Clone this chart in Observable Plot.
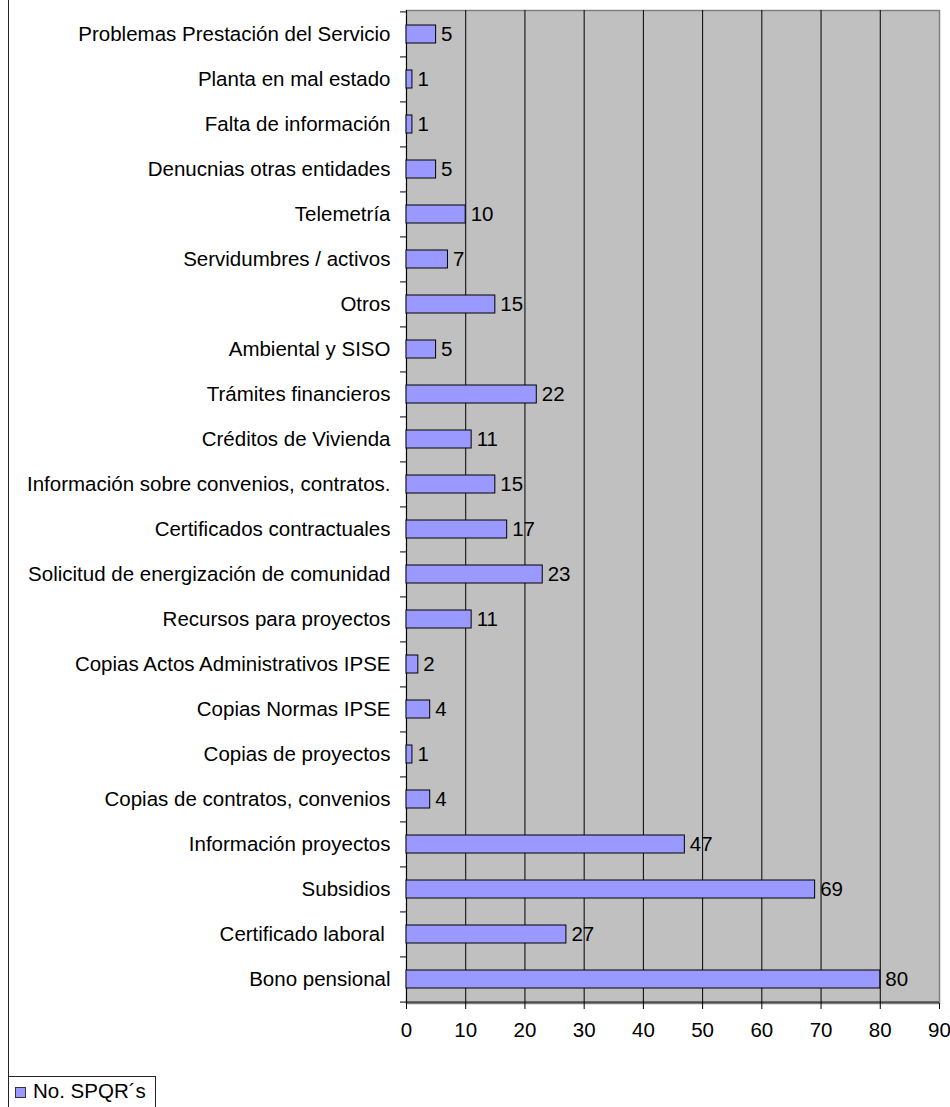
<!DOCTYPE html>
<html>
<head>
<meta charset="utf-8">
<script src="https://cdn.jsdelivr.net/npm/d3@7"></script>
<script src="https://cdn.jsdelivr.net/npm/@observablehq/plot@0.6"></script>
<style>
  body { margin: 0; background: #fff; font-family: "Liberation Sans", Arial, sans-serif; }
  #wrap { position: relative; width: 950px; height: 1107px; overflow: hidden; }
  #frame { position: absolute; left: 8px; top: 0; width: 0; height: 1077px; border-left: 1px solid #222; }
  #legend { position: absolute; left: 8px; top: 1076px; width: 148px; height: 40px; border: 1px solid #222; box-sizing: border-box; font-size: 20.5px; color: #000; }
  #legend .sw { position: absolute; left: 6px; top: 10px; width: 9px; height: 9px; background: #9999FF; border: 1px solid #333; }
  #legend .lb { position: absolute; left: 24px; top: 2px; white-space: nowrap; line-height: 23px; }
  #chart { position: absolute; left: 0; top: 0; }
</style>
</head>
<body>
<div id="wrap">
  <div id="chart"></div>
  <div id="frame"></div>
  <div id="legend"><div class="sw"></div><div class="lb" id="legendLabel"></div></div>
</div>
<script>
const categories = [
  "Problemas Prestación del Servicio",
  "Planta en mal estado",
  "Falta de información",
  "Denucnias otras entidades",
  "Telemetría",
  "Servidumbres / activos",
  "Otros",
  "Ambiental y SISO",
  "Trámites financieros",
  "Créditos de Vivienda",
  "Información sobre convenios, contratos.",
  "Certificados contractuales",
  "Solicitud de energización de comunidad",
  "Recursos para proyectos",
  "Copias Actos Administrativos IPSE",
  "Copias Normas IPSE",
  "Copias de proyectos",
  "Copias de contratos, convenios",
  "Información proyectos",
  "Subsidios",
  "Certificado laboral ",
  "Bono pensional"
];
const values = [5, 1, 1, 5, 10, 7, 15, 5, 22, 11, 15, 17, 23, 11, 2, 4, 1, 4, 47, 69, 27, 80];
const xTicks = [0, 10, 20, 30, 40, 50, 60, 70, 80, 90];
const gridTicks = [10, 20, 30, 40, 50, 60, 70, 80];
const seriesName = "No. SPQR´s";

document.getElementById("legendLabel").textContent = seriesName;

const data = categories.map((c, i) => ({category: c, value: values[i]}));

const W = 950, H = 1045;
const mL = 406, mR = 11, mT = 10, mB = 42;
const step = (H - mT - mB) / categories.length;
const plotW = W - mL - mR;
const FS = 20.5;

const chart = Plot.plot({
  width: W,
  height: H,
  marginLeft: mL,
  marginRight: mR,
  marginTop: mT,
  marginBottom: mB,
  style: {fontFamily: "'Liberation Sans', Arial, sans-serif", fontSize: FS + "px", color: "#000", background: "transparent"},
  x: {domain: [0, 90]},
  y: {type: "band", domain: categories, paddingInner: 0.6, paddingOuter: 0.3},
  marks: [
    Plot.frame({fill: "#C0C0C0", stroke: "#808080", strokeWidth: 1.5}),
    Plot.ruleX(gridTicks, {stroke: "#000", strokeWidth: 1}),
    Plot.ruleX([0], {stroke: "#000", strokeWidth: 1}),
    Plot.ruleY(categories, {y: d => d, dy: -step / 2, insetLeft: -6, insetRight: plotW, stroke: "#000"}),
    Plot.ruleY([categories[categories.length - 1]], {dy: step / 2, insetLeft: -6, stroke: "#000"}),
    Plot.barX(data, {y: "category", x: "value", fill: "#9999FF", stroke: "#000", strokeWidth: 1}),
    Plot.text(data, {y: "category", x: "value", text: d => String(d.value), dx: 5, textAnchor: "start", fontSize: FS, fill: "#000"}),
    Plot.axisY({tickSize: 0, tickPadding: 16, fontSize: FS, label: null}),
    Plot.axisX({ticks: xTicks, tickSize: 6, tickPadding: 13, fontSize: FS, label: null, tickFormat: d => String(d)})
  ]
});
document.getElementById("chart").appendChild(chart);
</script>
</body>
</html>
